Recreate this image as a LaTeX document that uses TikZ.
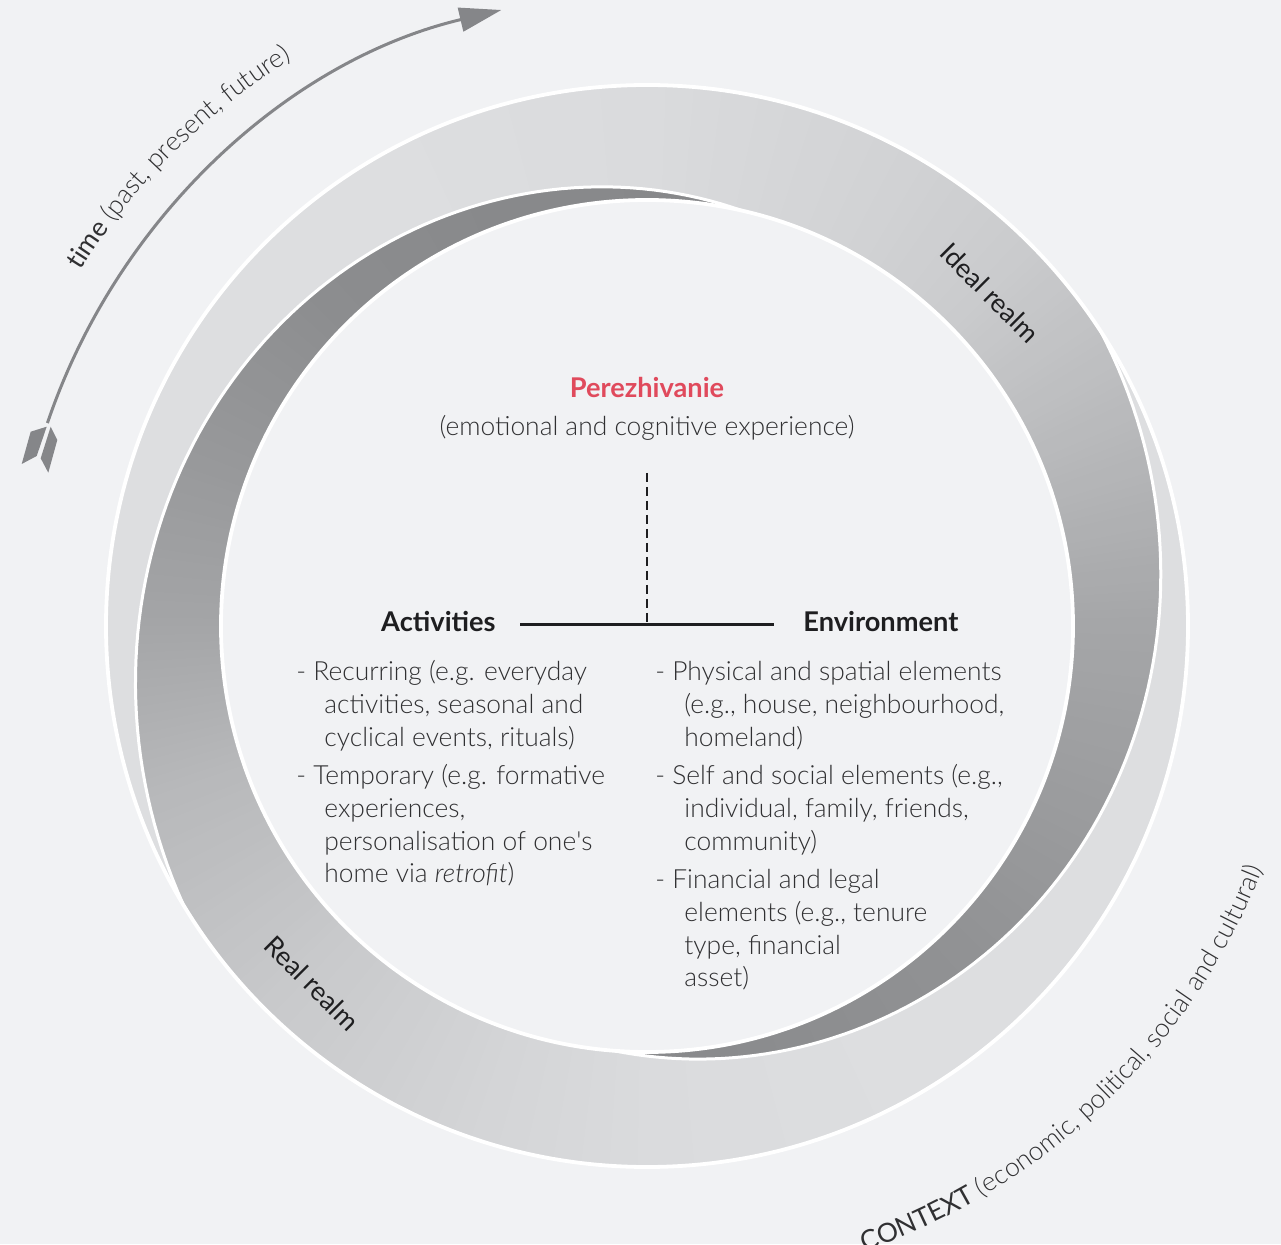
\documentclass[tikz,border=0pt]{standalone}
\usepackage{fontspec}
\IfFontExistsTF{Lato Light}{%
  \IfFontExistsTF{Lato Light Italic}{%
    \setmainfont{Lato Light}[BoldFont={Lato Bold},ItalicFont={Lato Light Italic}]}{%
    \setmainfont{Lato Light}[BoldFont={Lato Bold}]}%
}{\setmainfont{Lato}}
\newfontfamily\regfont{Lato}
\usetikzlibrary{arrows.meta,decorations.text}

\definecolor{bgc}{RGB}{241,242,244}
\definecolor{txt}{RGB}{48,48,50}
\definecolor{hdr}{RGB}{30,30,32}
\definecolor{perc}{RGB}{224,74,92}
\definecolor{arrc}{RGB}{133,134,137}

\newcommand\bandwedges[1]{%
  \foreach \angA/\angB/\grA/\grB in {#1}{%
    \pgfmathtruncatemacro\nn{\angB-\angA-1}%
    \foreach \k in {0,...,\nn}{%
      \pgfmathsetmacro\ang{\angA+\k}%
      \pgfmathsetmacro\angn{\angA+\k+1.6}%
      \pgfmathtruncatemacro\gv{round(\grA+(\grB-\grA)*(\k+0.5)/(\angB-\angA))}%
      \pgfmathtruncatemacro\gw{min(\gv+1,255)}%
      \pgfmathtruncatemacro\gx{min(\gv+3,255)}%
      \definecolor{wc}{RGB}{\gv,\gw,\gx}%
      \fill[wc] (0,0) -- (\ang:620) -- (\angn:620) -- cycle;
    }%
  }%
}

\newcommand\bodysize{\fontsize{13.2pt}{16pt}\selectfont}
\newcommand\headsize{\fontsize{13.6pt}{16pt}\selectfont}

\tikzset{
  body/.style={font=\bodysize, text=txt, inner sep=0pt, anchor=base west},
  head/.style={font=\headsize\bfseries, text=hdr, inner sep=0pt},
  realm/.style={font=\fontsize{13.3pt}{16pt}\selectfont\regfont, text=hdr, inner sep=0pt, rotate=-45},
  hline/.style={draw=hdr, line width=1.1pt},
  dline/.style={draw=hdr, line width=1pt, dash pattern=on 4.5pt off 2.5pt},
  ring/.style={draw=white, line width=1.9pt},
  seam/.style={draw=white, line width=1.5pt},
}

\begin{document}
\begin{tikzpicture}[x=0.5pt,y=0.5pt]
\useasboundingbox (0,0) rectangle (1281,1244);
\fill[bgc] (0,0) rectangle (1281,1244);

\begin{scope}[shift={(647,618)}]
  % Real band
  \begin{scope}
    \clip (77:426) -- plot[domain=0:1,samples=90,variable=\t] ({77+134*\t}:{426+115*(\t-0.1*\t*sin(180*\t))})
      arc[start angle=211,end angle=393,radius=541]
      -- plot[domain=0:1,samples=90,variable=\t] ({393-127.5*\t}:{541-115*\t})
      arc[start angle=265.5,end angle=77,radius=426] -- cycle;
    \bandwedges{76/110/135/136, 110/135/136/140, 135/160/140/152, 160/180/152/164, 180/200/164/184, 200/225/184/200, 225/250/200/211, 250/270/211/218, 270/300/218/221, 300/394/221/221}
  \end{scope}
  % Ideal band
  \begin{scope}
    \clip (211:541) arc[start angle=211,end angle=33,radius=541]
      -- plot[domain=0:1,samples=90,variable=\t] ({393-127.5*\t}:{541-115*\t})
      arc[start angle=265.5,end angle=437,radius=426]
      -- plot[domain=0:1,samples=90,variable=\t] ({77+134*\t}:{426+115*(\t-0.1*\t*sin(180*\t))}) -- cycle;
    \bandwedges{-96/-45/135/145, -45/0/145/165, 0/30/165/190, 30/45/190/202, 45/60/202/209, 60/90/209/218, 90/120/218/221, 120/212/221/221}
  \end{scope}
  % white outlines
  \draw[ring] (0,0) circle[radius=541];
  \draw[ring] (0,0) circle[radius=426];
  \draw[seam] plot[domain=0:1,samples=90,variable=\t] ({77+134*\t}:{426+115*(\t-0.1*\t*sin(180*\t))});
  \draw[seam] plot[domain=0:1,samples=90,variable=\t] ({393-127.5*\t}:{541-115*\t});

  % time arrow
  \draw[arrc, line width=1.5pt, -{Triangle[length=21pt,width=12pt]}] (161.3:633) arc[start angle=161.3,end angle=103.3,radius=633];

  % curved labels
  \path[decorate, decoration={text along path,
    text={|\bodysize\regfont\color{txt}|time |\bodysize\rmfamily\color{txt}|(past, present, future)}}]
    (147.9:669) arc[start angle=147.9,end angle=100,radius=669];
  \path[decorate, decoration={text along path,
    text={|\bodysize\regfont\color{txt}|CONTEXT |\bodysize\rmfamily\color{txt}|(economic, political, social and cultural)}}]
    (-70.8:662) arc[start angle=-70.8,end angle=-5,radius=662];
\end{scope}

% arrow fletching
\fill[arrc] (46.7,817.3) -- (30.7,812.3) -- (21.7,780) -- (36.7,788) -- cycle;
\fill[arrc] (50.7,817.3) -- (57.3,804) -- (48.3,771.3) -- (40.7,785.7) -- cycle;

% realm labels
\node[realm] (ideal) at (990,951) {Ideal realm};
\node[realm] (real) at (312,261) {Real realm};

% centre texts
\node[head, text=perc, anchor=base] (per) at (647,846) {Perezhivanie};
\node[body, anchor=base] (sub) at (647,808) {(emotional and cognitive experience)};
\node[head, anchor=base east] (act) at (496,612) {Activities};
\node[head, anchor=base west] (env) at (803,612) {Environment};
\coordinate (jn) at (647,619.5);
\coordinate (dtop) at (647,771);
\draw[hline] ([xshift=12pt]act.east |- jn) -- ([xshift=-14.5pt]env.west |- jn);
\draw[dline] (dtop) -- (jn);

% left list
\node[body] (l1) at (296,563) {- Recurring (e.g. everyday};
\node[body] (l2) at (324,530) {activities, seasonal and};
\node[body] (l3) at (324,497.5) {cyclical events, rituals)};
\node[body] (l4) at (296,459) {- Temporary (e.g. formative};
\node[body] (l5) at (324,426) {experiences,};
\node[body] (l6) at (324,393) {personalisation of one{\addfontfeatures{Ligatures=TeXOff}'}s};
\node[body] (l7) at (324,361) {home via \textit{retrofit})};

% right list
\node[body] (r1) at (655,563) {- Physical and spatial elements};
\node[body] (r2) at (684,530) {(e.g., house, neighbourhood,};
\node[body] (r3) at (684,497.5) {homeland)};
\node[body] (r4) at (655,459) {- Self and social elements (e.g.,};
\node[body] (r5) at (684,426) {individual, family, friends,};
\node[body] (r6) at (684,393) {community)};
\node[body] (r7) at (655,355) {- Financial and legal};
\node[body] (r8) at (684,322) {elements (e.g., tenure};
\node[body] (r9) at (684,289) {type, financial};
\node[body] (r10) at (684,257) {asset)};
\end{tikzpicture}
\end{document}
